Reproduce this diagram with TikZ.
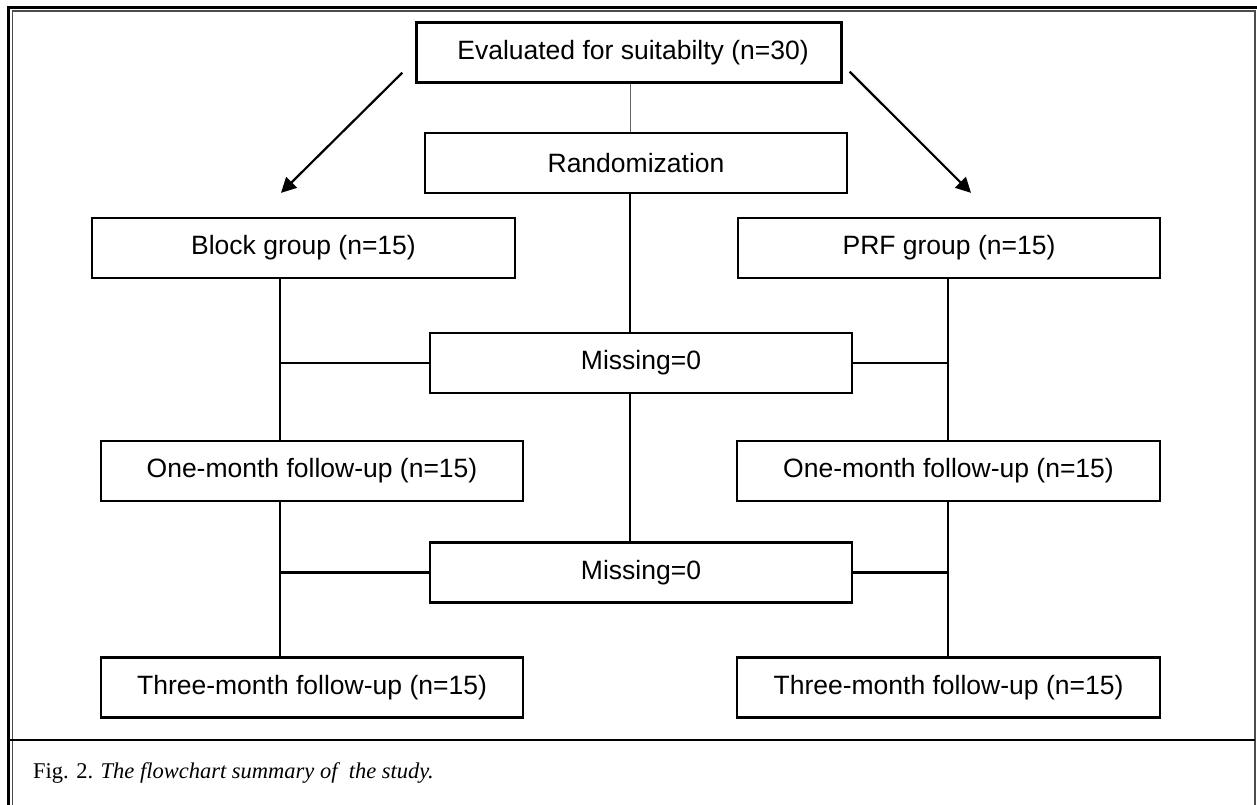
\documentclass[tikz,border=0pt]{standalone}
\usepackage{fontspec}
\setmainfont{Liberation Serif}
\newfontfamily\boxfont{Liberation Sans}
\usetikzlibrary{arrows.meta,calc}

\begin{document}
\begin{tikzpicture}[x=1pt,y=-1pt,
  box/.style={draw,line width=2.3pt,minimum height=60pt,inner sep=0pt,font=\boxfont\fontsize{26.5}{30}\selectfont},
  link/.style={line width=2.2pt},
  arr/.style={line width=2.2pt,-{Triangle[length=15pt,width=15pt]}}]
\useasboundingbox (0,0) rectangle (1257,805);
% frame round the figure
\draw[line width=2.6pt] (8.5,805) -- (8.5,7.5) -- (1257,7.5);
\draw[line width=1.3pt,black!70] (12.8,805) -- (12.8,11) -- (1255,11) -- (1255,805);
\draw[line width=2pt] (8,739.5) -- (1255,739.5);
% columns
\coordinate (lcol) at (280,0);
\coordinate (ccol) at (630,0);
\coordinate (rcol) at (948,0);
% boxes
\node[box,minimum width=425pt] (eval) at (629,52.5) {\hspace*{8pt}Evaluated for suitabilty (n=30)};
\node[box,minimum width=422pt] (rand) at (636,163) {Randomization};
\node[box,minimum width=423pt] (block) at (303.5,248) {Block group (n=15)};
\node[box,minimum width=422pt] (prf) at (949,248) {PRF group (n=15)};
\node[box,minimum width=422pt] (miss1) at (641,363) {Missing=0};
\node[box,minimum width=422pt] (onemL) at (312,471) {One-month follow-up (n=15)};
\node[box,minimum width=423pt] (onemR) at (948.5,471) {One-month follow-up (n=15)};
\node[box,minimum width=422pt] (miss2) at (641,572.5) {Missing=0};
\node[box,minimum width=422pt] (threeL) at (312,687.5) {Three-month follow-up (n=15)};
\node[box,minimum width=423pt] (threeR) at (948.5,687.5) {Three-month follow-up (n=15)};
% connectors
\draw[line width=0.9pt,black!60] (ccol |- eval.south) -- (ccol |- rand.north);
\draw[arr] ($(eval.south west)+(-13,-11)$) -- ($(lcol |- block.north)+(1,-24)$);
\draw[arr] ($(eval.south east)+(7,-12)$) -- ($(rcol |- prf.north)+(23,-24)$);
\draw[link] (ccol |- rand.south) -- (ccol |- miss1.north);
\draw[link] (ccol |- miss1.south) -- (ccol |- miss2.north);
\draw[link] (lcol |- block.south) -- (lcol |- onemL.north);
\draw[link] (lcol |- onemL.south) -- (lcol |- threeL.north);
\draw[link] (rcol |- prf.south) -- (rcol |- onemR.north);
\draw[link] (rcol |- onemR.south) -- (rcol |- threeR.north);
\draw[link] (miss1.west) -- (lcol |- miss1.west);
\draw[link] (miss1.east) -- (rcol |- miss1.east);
\draw[link] (miss2.west) -- (lcol |- miss2.west);
\draw[link] (miss2.east) -- (rcol |- miss2.east);
% caption
\node[anchor=base west,inner sep=0pt,font=\fontsize{22.5}{26}\selectfont] (cap) at (33,778) {Fig. 2. \textit{The flowchart summary of\ \ the study.}};
\end{tikzpicture}
\end{document}
